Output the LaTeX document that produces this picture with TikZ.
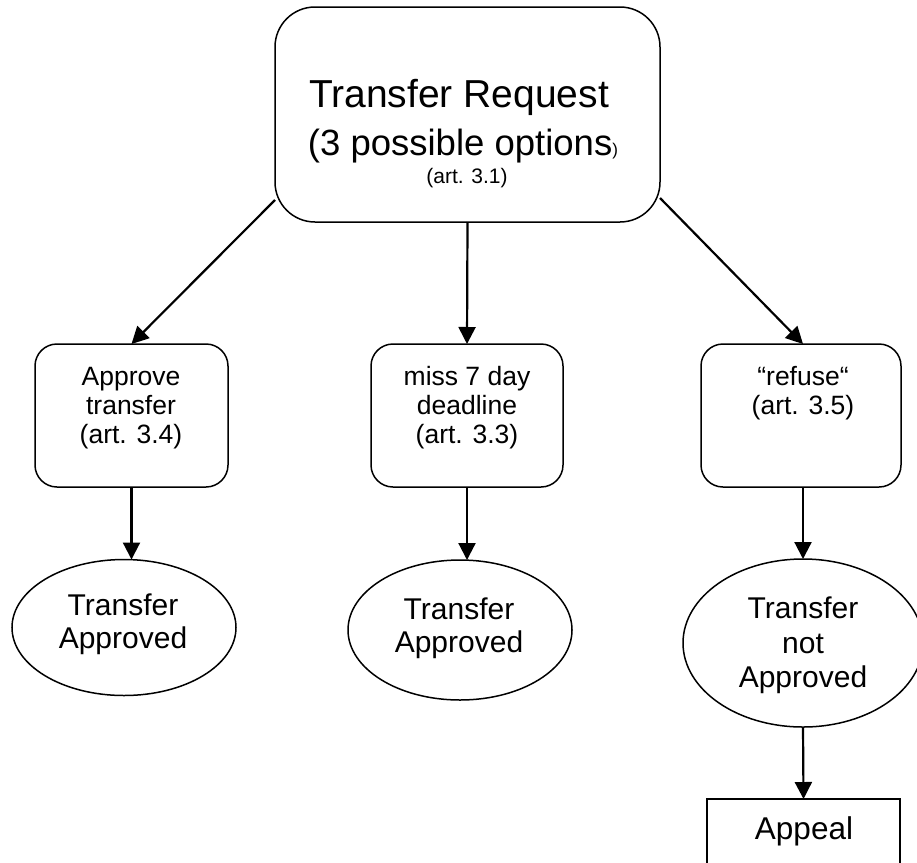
\documentclass[tikz,border=0pt]{standalone}
\usepackage{fontspec}
\setmainfont{Liberation Sans}
\usetikzlibrary{shapes.geometric,arrows.meta,calc}
\begin{document}
\begin{tikzpicture}[x=1pt,y=-1pt,
  rbox/.style={draw, line width=1.5pt, inner sep=0pt, outer sep=0pt},
  oval/.style={draw, ellipse, line width=1.5pt, inner sep=0pt, outer sep=0pt},
  arr/.style={line width=2.2pt, -{Triangle[width=17pt,length=17pt]}},
  txt/.style={anchor=base, inner sep=0pt, outer sep=0pt},
  big/.style={txt, font=\fontsize{39}{39}\selectfont},
  mid/.style={txt, font=\fontsize{26.5}{26.5}\selectfont},
  ell/.style={txt, font=\fontsize{30}{30}\selectfont}]
\clip (0,0) rectangle (917,862);
\fill[white] (0,0) rectangle (917,862);
% boxes
\node[rbox, rounded corners=40pt, minimum width=385pt, minimum height=215pt] (tr) at (467.5,114.5) {};
\node[rbox, rounded corners=22pt, minimum width=193pt, minimum height=143pt] (bl) at (131.5,415.5) {};
\node[rbox, rounded corners=22pt, minimum width=192pt, minimum height=143pt] (bm) at (467,415.5) {};
\node[rbox, rounded corners=22pt, minimum width=200pt, minimum height=143pt] (br) at (801,415.5) {};
\node[oval, minimum width=224pt, minimum height=136pt] (el) at (124,627.5) {};
\node[oval, minimum width=224pt, minimum height=140pt] (em) at (460,630) {};
\node[oval, minimum width=240pt, minimum height=168pt] (er) at (803,643) {};
\node[draw, line width=1.5pt, minimum width=193pt, minimum height=90pt, inner sep=0pt, outer sep=0pt] (ap) at (803.5,844) {};
% texts
\node[big] (t1) at (459,107) {Transfer Request};
\node[txt, font=\fontsize{36.5}{36.5}\selectfont] (t2) at (463,155) {(3 possible options{\fontsize{17}{17}\selectfont)}};
\node[txt, font=\fontsize{21}{21}\selectfont] (t3) at (467,183) {(art. 3.1)};
\node[mid] (l1) at (131,385) {Approve};
\node[mid] (l2) at (131,414) {transfer};
\node[mid] (l3) at (131,443) {(art. 3.4)};
\node[mid] (m1) at (467,385) {miss 7 day};
\node[mid] (m2) at (467,414) {deadline};
\node[mid] (m3) at (467,443) {(art. 3.3)};
\node[mid] (r1) at (803,385) {“refuse“};
\node[mid] (r2) at (803,414) {(art. 3.5)};
\node[ell] (e1) at (123,615) {Transfer};
\node[ell] (e2) at (123,648) {Approved};
\node[ell] (f1) at (459,619) {Transfer};
\node[ell] (f2) at (459,652) {Approved};
\node[ell] (g1) at (803,618) {Transfer};
\node[ell] (g2) at (803,653) {not};
\node[ell] (g3) at (803,687) {Approved};
\node[txt, font=\fontsize{31.5}{31.5}\selectfont] (a1) at (804,839) {Appeal};
% connectors
\coordinate (tl) at (275,200);
\coordinate (trr) at (660,198);
\draw[arr] (tl) -- (bl.north);
\draw[arr] (tr.south) -- (bm.north);
\draw[arr] (trr) -- ($(br.north)+(2,0)$);
\draw[arr] (bl.south) -- (bl.south |- el.north);
\draw[arr] (bm.south) -- (bm.south |- em.north);
\draw[arr] ($(br.south)+(2,0)$) -- (er.north);
\draw[arr] (er.south) -- (ap.north);
\end{tikzpicture}
\end{document}
